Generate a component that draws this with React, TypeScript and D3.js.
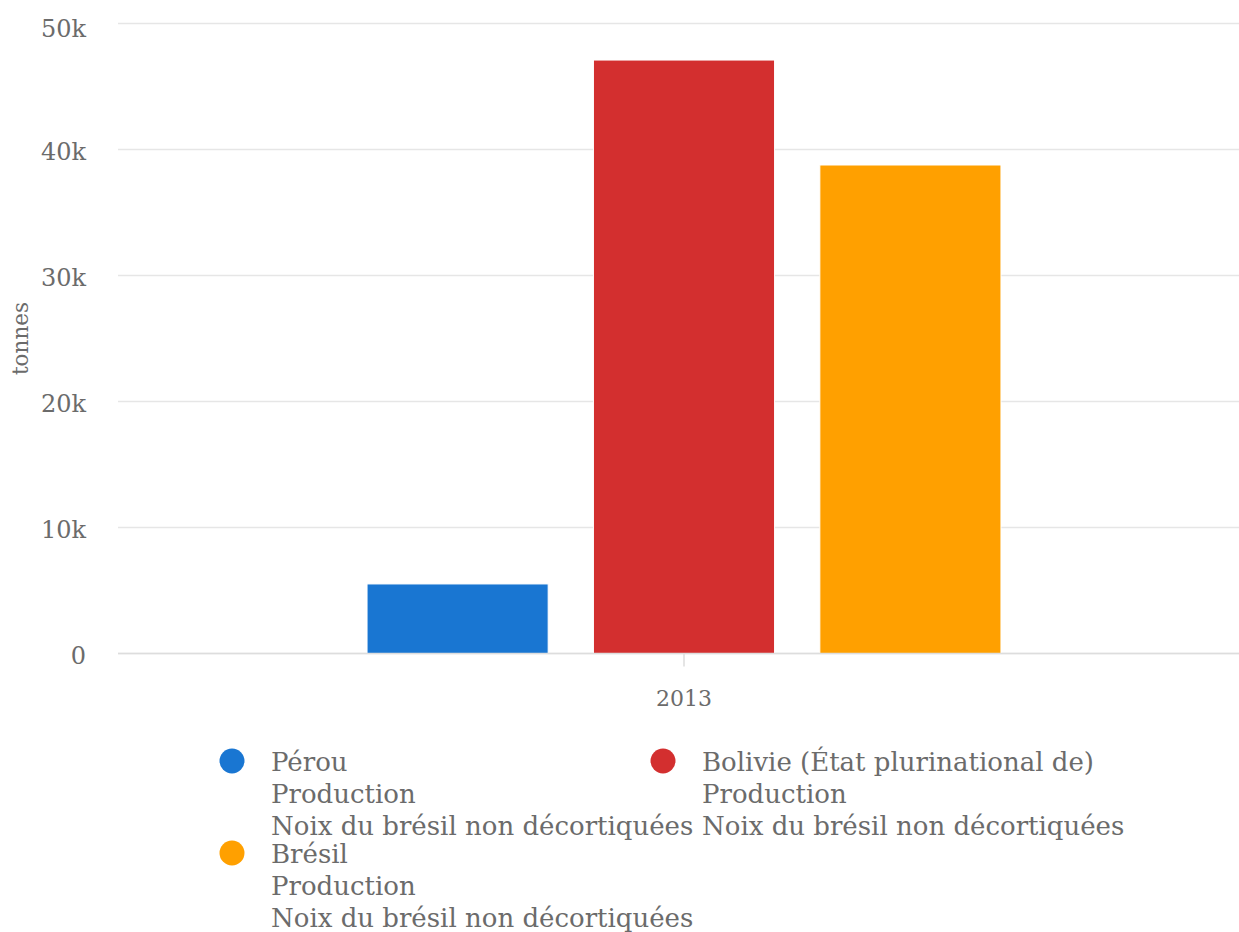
import React from "react";
import * as d3 from "d3";

const categories = ["2013"];
const seriesNames = [
  ["Pérou", "Production", "Noix du brésil non décortiquées"],
  ["Bolivie (État plurinational de)", "Production", "Noix du brésil non décortiquées"],
  ["Brésil", "Production", "Noix du brésil non décortiquées"],
];
const seriesValues = [5520, 47100, 38770];
const seriesColors = ["#1976d2", "#d32f2f", "#ffa000"];
const yTicks = [0, 10000, 20000, 30000, 40000, 50000];
const yTickLabels = ["0", "10k", "20k", "30k", "40k", "50k"];
const yTitle = "tonnes";

const W = 1239;
const H = 932;
const FONT = "'DejaVu Serif', serif";
const TEXT = "#6b6b6b";

export default function App() {
  const left = 118;
  const right = 1250;
  const top = 23.5;
  const bottom = 653.5;

  const y = d3.scaleLinear().domain([0, 50000]).range([bottom, top]);
  const x0 = d3.scaleBand<string>().domain(categories).range([left, right]).padding(0);
  const bw = x0.bandwidth();
  const x1 = d3
    .scaleBand<number>()
    .domain(seriesValues.map((_, i) => i))
    .range([bw * 0.2, bw * 0.8])
    .paddingInner(0.2)
    .paddingOuter(0.1);

  const legendX = [220, 651];
  const legendRowY = [761, 853];
  const lineH = 32;

  return (
    <svg
      width={W}
      height={H}
      style={{ position: "absolute", left: 0, top: 0, background: "#fff" }}
      fontFamily={FONT}
    >
      {yTicks.map((t, i) => (
        <g key={t}>
          <line x1={left} x2={W} y1={y(t)} y2={y(t)} stroke="#e6e6e6" strokeWidth={1.5} />
          <text
            x={86}
            y={Math.max(y(t) + 10.5, 36.5)}
            textAnchor="end"
            fontSize={24}
            fill={TEXT}
          >
            {yTickLabels[i]}
          </text>
        </g>
      ))}
      <text
        transform={`translate(28, ${(top + bottom) / 2}) rotate(-90)`}
        textAnchor="middle"
        fontSize={21.5}
        fill={TEXT}
      >
        {yTitle}
      </text>
      {categories.map((c) =>
        seriesValues.map((v, i) => (
          <rect
            key={c + i}
            x={(x0(c) as number) + (x1(i) as number)}
            y={y(v)}
            width={x1.bandwidth()}
            height={y(0) - y(v)}
            fill={seriesColors[i]}
            stroke="#ffffff"
            strokeWidth={1}
          />
        ))
      )}
      <line x1={left} x2={W} y1={y(0)} y2={y(0)} stroke="#dddddd" strokeWidth={1.5} />
      {categories.map((c) => {
        const cx = (x0(c) as number) + bw / 2;
        return (
          <g key={c}>
            <line x1={cx} x2={cx} y1={y(0)} y2={y(0) + 13} stroke="#dddddd" strokeWidth={1.5} />
            <text x={cx} y={706} textAnchor="middle" fontSize={22} fill={TEXT}>
              {c}
            </text>
          </g>
        );
      })}
      {seriesNames.map((lines, i) => {
        const col = i % 2;
        const row = Math.floor(i / 2);
        const lx = legendX[col];
        const ly = legendRowY[row];
        return (
          <g key={i}>
            <circle cx={lx + 12} cy={ly} r={12.5} fill={seriesColors[i]} />
            {lines.map((l, j) => (
              <text key={j} x={lx + 51} y={ly + 10 + j * lineH} fontSize={26} fill={TEXT}>
                {l}
              </text>
            ))}
          </g>
        );
      })}
    </svg>
  );
}
